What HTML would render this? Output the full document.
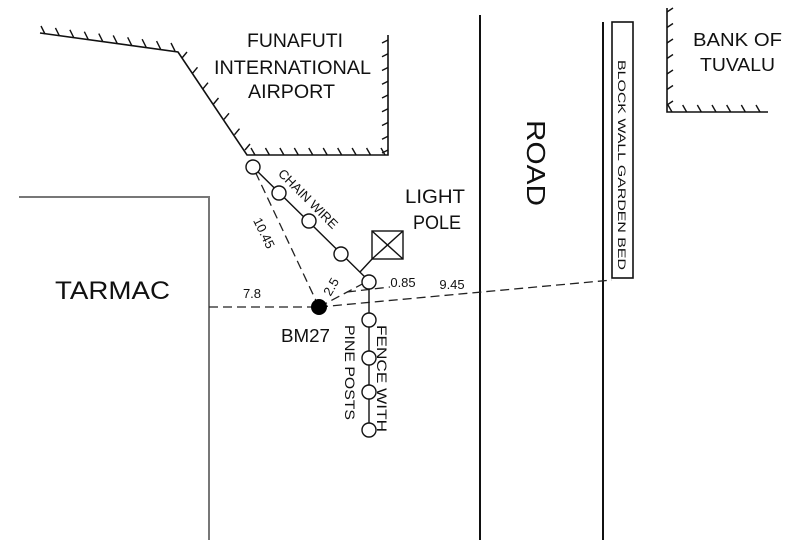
<!DOCTYPE html>
<html><head><meta charset="utf-8"><style>
html,body{margin:0;padding:0;background:#fff;}
svg{display:block;}
text{font-family:"Liberation Sans",sans-serif;fill:#111;}
</style></head><body>
<svg id="s" width="800" height="554" viewBox="0 0 800 554" xmlns="http://www.w3.org/2000/svg">
<g fill="none" stroke="#111" stroke-width="1.6">
<polyline points="40,33 178,52 247,155 388,155 388,35"/>
<polyline points="667,8 667,112 768,112"/>
<line x1="480" y1="15" x2="480" y2="540" stroke-width="2"/>
<line x1="603" y1="22" x2="603" y2="540" stroke-width="2"/>
<rect x="612" y="22" width="21" height="256" stroke-width="1.6"/>
</g>
<polyline points="19,197 209,197 209,540" fill="none" stroke="#777" stroke-width="2"/>
<g id="hatch" stroke="#111" stroke-width="1.4" fill="none"></g>
<g stroke="#222" stroke-width="1.3" stroke-dasharray="9,5" fill="none">
<line x1="209" y1="307" x2="319" y2="307"/>
<line x1="319" y1="307" x2="612" y2="280"/>
<line x1="319" y1="307" x2="253" y2="167"/>
<line x1="319" y1="307" x2="368" y2="281"/>
<line x1="347" y1="292" x2="390" y2="287"/>
</g>
<g stroke="#111" stroke-width="1.4" fill="#fff">
<polyline points="253,167 369,281 369,430" fill="none"/>
<line x1="360" y1="272" x2="373" y2="258"/>
<circle cx="253" cy="167" r="7"/>
<circle cx="279" cy="193" r="7"/>
<circle cx="309" cy="221" r="7"/>
<circle cx="341" cy="254" r="7"/>
<circle cx="369" cy="282" r="7"/>
<circle cx="369" cy="320" r="7"/>
<circle cx="369" cy="358" r="7"/>
<circle cx="369" cy="392" r="7"/>
<circle cx="369" cy="430" r="7"/>
<rect x="372" y="231" width="31" height="28" fill="none"/>
<line x1="372" y1="231" x2="403" y2="259"/>
<line x1="403" y1="231" x2="372" y2="259"/>
</g>
<circle cx="319" cy="307" r="8" fill="#000"/>
<g font-size="19">
<text x="247" y="47" textLength="96" lengthAdjust="spacingAndGlyphs">FUNAFUTI</text>
<text x="214" y="74" textLength="157" lengthAdjust="spacingAndGlyphs">INTERNATIONAL</text>
<text x="248" y="98" textLength="87" lengthAdjust="spacingAndGlyphs">AIRPORT</text>
</g>
<g font-size="18">
<text x="693" y="46" textLength="89" lengthAdjust="spacingAndGlyphs">BANK OF</text>
<text x="700" y="71" textLength="75" lengthAdjust="spacingAndGlyphs">TUVALU</text>
</g>
<text x="405" y="203" font-size="19" textLength="60" lengthAdjust="spacingAndGlyphs">LIGHT</text>
<text x="413" y="229" font-size="19" textLength="48" lengthAdjust="spacingAndGlyphs">POLE</text>
<text x="55" y="299" font-size="25" textLength="115" lengthAdjust="spacingAndGlyphs">TARMAC</text>
<text x="281" y="342" font-size="18" textLength="49" lengthAdjust="spacingAndGlyphs">BM27</text>
<text font-size="26" transform="translate(527,120) rotate(90)" textLength="86" lengthAdjust="spacingAndGlyphs">ROAD</text>
<text font-size="11" transform="translate(618,60) rotate(90)" textLength="210" lengthAdjust="spacingAndGlyphs">BLOCK WALL GARDEN BED</text>
<text x="252" y="298" font-size="13" text-anchor="middle">7.8</text>
<text x="452" y="289" font-size="13" text-anchor="middle">9.45</text>
<text x="403" y="287" font-size="13" text-anchor="middle">0.85</text>
<text font-size="13" text-anchor="middle" transform="translate(260,235) rotate(64)">10.45</text>
<text font-size="13" text-anchor="middle" transform="translate(335,289) rotate(-60)">2.5</text>
<text font-size="13" text-anchor="middle" transform="translate(305,202) rotate(45)">CHAIN WIRE</text>
<text font-size="14" transform="translate(377,325) rotate(90)" textLength="107" lengthAdjust="spacingAndGlyphs">FENCE WITH</text>
<text font-size="14" transform="translate(345,325) rotate(90)" textLength="95" lengthAdjust="spacingAndGlyphs">PINE POSTS</text>
</svg>
<script>
var g=document.getElementById('hatch'),ns='http://www.w3.org/2000/svg';
function tick(x,y,dx,dy){var l=document.createElementNS(ns,'line');l.setAttribute('x1',x);l.setAttribute('y1',y);l.setAttribute('x2',x+dx);l.setAttribute('y2',y+dy);g.appendChild(l);}
function seg(x1,y1,x2,y2,n,dx,dy){for(var i=0;i<=n;i++){var t=i/n;tick(x1+(x2-x1)*t,y1+(y2-y1)*t,dx,dy);}}
seg(45,34,175,51,9,-4,-8);
seg(182,58,245,150,6,5,-6);
seg(255,155,385,155,9,-4,-7);
seg(388,40,388,150,8,-6,3);
seg(667,12,667,105,6,6,-4);
seg(672,112,760,112,6,-4,-7);
</script>
</body></html>
